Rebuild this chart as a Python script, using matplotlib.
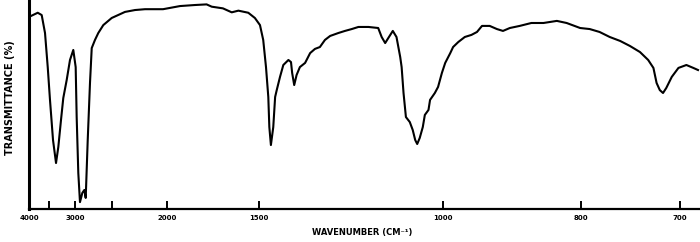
import numpy as np
import matplotlib
matplotlib.use("Agg")
import matplotlib.pyplot as plt

# IR spectrum: wavenumber (cm-1) and transmittance (%)
wavenumber = np.array([
    4000, 3762, 3663, 3584, 3522, 3472, 3407, 3345, 3299, 3247, 3204, 3142,
    3084, 3028, 2989, 2973, 2947, 2921, 2885, 2855, 2835, 2806, 2774, 2750,
    2706, 2663, 2600, 2501, 2359, 2262, 2173, 2029, 1910, 1816, 1749, 1721,
    1663, 1620, 1589, 1545, 1517, 1496, 1483, 1472, 1463, 1459, 1453, 1444,
    1437, 1431, 1419, 1407, 1389, 1380, 1376, 1369, 1361, 1350, 1333, 1317,
    1302, 1287, 1272, 1257, 1234, 1216, 1198, 1181, 1156, 1133, 1125, 1117,
    1110, 1100, 1092, 1084, 1081, 1077, 1072, 1064, 1058, 1053, 1049, 1044,
    1038, 1034, 1027, 1024, 1015, 1009, 1002, 996, 987, 982, 973, 962,
    951, 942, 934, 922, 911, 902, 892, 878, 862, 846, 829, 817,
    801, 790, 779, 768, 757, 747, 737, 729, 724, 721, 718, 715,
    712, 707, 701, 694, 688, 684,
])
transmittance = np.array([
    91.9, 93.9, 92.8, 84.2, 67.9, 52.2, 33.0, 22.0, 29.7, 42.6, 53.1, 61.7,
    71.3, 76.1, 67.9, 44.0, 17.2, 3.3, 7.7, 9.1, 5.3, 33.0, 60.3, 77.0,
    80.9, 84.2, 88.0, 91.4, 94.3, 95.2, 95.6, 95.6, 97.1, 97.6, 97.9, 96.8,
    96.0, 94.1, 94.9, 93.9, 91.4, 88.0, 80.9, 67.9, 53.6, 39.2, 30.6, 39.2,
    53.6, 56.9, 63.2, 68.9, 71.3, 70.3, 65.1, 59.3, 64.1, 67.9, 69.9, 74.6,
    76.6, 77.5, 80.9, 82.8, 84.2, 85.2, 86.1, 87.1, 87.1, 86.6, 82.3, 79.4,
    81.8, 85.2, 82.3, 72.7, 67.9, 55.5, 44.0, 41.6, 37.8, 33.0, 31.1, 34.0,
    39.2, 45.0, 47.4, 52.2, 55.5, 58.4, 65.1, 69.9, 74.6, 77.5, 79.9, 82.3,
    83.3, 84.7, 87.6, 87.6, 86.1, 85.2, 86.6, 87.6, 89.0, 89.0, 90.0, 89.0,
    86.6, 86.1, 84.7, 82.3, 80.4, 78.0, 75.1, 71.3, 67.5, 60.3, 56.9, 55.5,
    57.9, 63.2, 67.5, 68.9, 67.5, 66.5,
])

tick_nu = [4000, 3500, 3000, 2500, 2000, 1500, 1000, 800, 700]
tick_labels = ["4000", "", "3000", "", "2000", "1500", "1000", "800", "700"]

# chart is linear in wavelength (micron), labelled in wavenumber
fig = plt.figure(figsize=(7.0, 2.42), dpi=100)
ax = fig.add_axes([29 / 700, 33 / 242, 671 / 700, 209 / 242])

ax.plot(10000 / wavenumber, transmittance, color="black", lw=1.5)

ax.set_xlim(2.5, 14.656)
ax.set_ylim(0, 100)
ax.set_xticks(10000 / np.array(tick_nu))
ax.set_xticklabels(tick_labels, fontsize=5, fontweight="bold")
ax.set_yticks([])
ax.tick_params(axis="x", direction="in", length=5.8, width=1.4, pad=4)

for side in ["top", "right"]:
    ax.spines[side].set_visible(False)
ax.spines["left"].set_linewidth(2.2)
ax.spines["bottom"].set_linewidth(1.6)

fig.text(362 / 700, 1 - 233 / 242, "WAVENUMBER (CM\u207b\u00b9)", fontsize=6,
         fontweight="bold", ha="center", va="center")
fig.text(10 / 700, 1 - 98 / 242, "TRANSMITTANCE (%)", fontsize=7,
         fontweight="bold", rotation=90, ha="center", va="center")

fig.savefig("out.png", dpi=100)
